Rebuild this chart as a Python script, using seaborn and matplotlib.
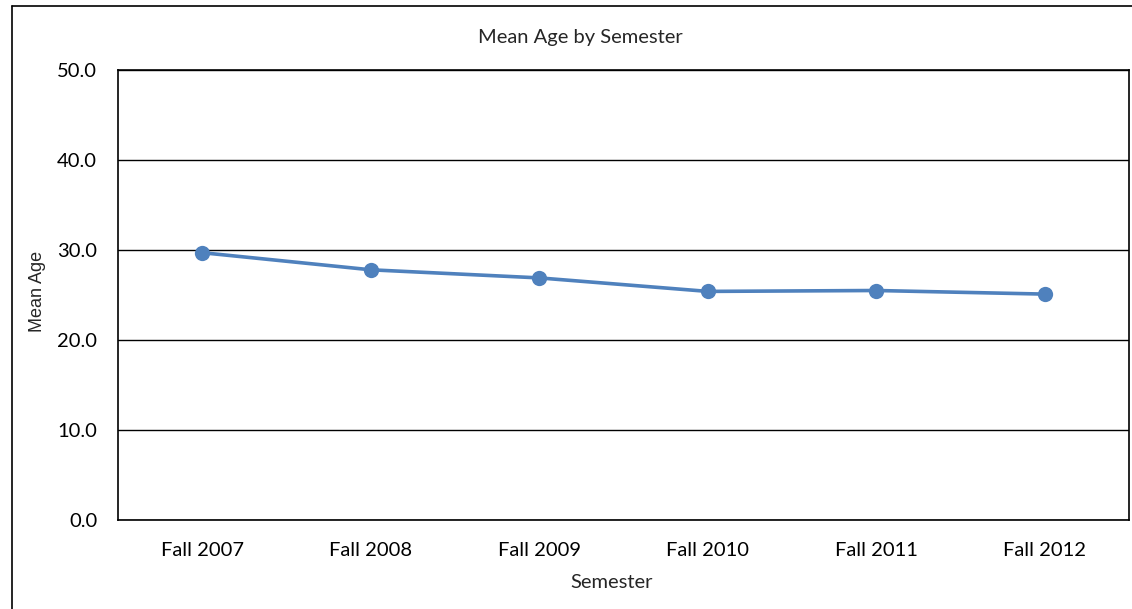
import matplotlib
matplotlib.use("Agg")
import matplotlib.pyplot as plt
import seaborn as sns
import pandas as pd
from matplotlib.lines import Line2D

# =========================
# DATA
# =========================
semesters = ["Fall 2007", "Fall 2008", "Fall 2009", "Fall 2010", "Fall 2011", "Fall 2012"]
mean_age = [29.7, 27.8, 26.9, 25.4, 25.5, 25.1]
y_ticks = [0, 10, 20, 30, 40, 50]

df = pd.DataFrame({"Semester": semesters, "Mean Age": mean_age})

sns.set_style("white")
plt.rcParams["font.family"] = ["Lato", "DejaVu Sans"]

fig = plt.figure(figsize=(11.32, 6.09), dpi=100)
ax = fig.add_axes([118 / 1132, 89 / 609, 1011 / 1132, 450 / 609])

sns.lineplot(data=df, x="Semester", y="Mean Age", ax=ax, sort=False,
             color="#4F81BD", linewidth=2.6, marker="o", markersize=11,
             markeredgewidth=0)

ax.set_xlim(-0.5, len(semesters) - 0.5)
ax.set_ylim(0, 50)
ax.set_yticks(y_ticks)
ax.set_yticklabels([f"{v:.1f}" for v in y_ticks])
ax.yaxis.grid(True, color="black", linewidth=1)
ax.set_axisbelow(True)
ax.tick_params(axis="both", length=0, labelsize=14.5, colors="black")
ax.tick_params(axis="y", pad=15)
ax.tick_params(axis="x", pad=16)
for s in ax.spines.values():
    s.set_color("black")
    s.set_linewidth(1.2)

ax.set_xlabel("")
ax.set_ylabel("")

fig.text(580 / 1132, 1 - 38 / 609, "Mean Age by Semester", ha="center", va="center", fontsize=14.5)
fig.text(612 / 1132, 1 - 583 / 609, "Semester", ha="center", va="center", fontsize=14.5)
fig.text(37 / 1132, 1 - 291 / 609, "Mean Age", ha="center", va="center", rotation=90,
         fontsize=13, family=["Liberation Sans", "DejaVu Sans"])

# outer chart frame
fig.add_artist(Line2D([12 / 1132, 12 / 1132], [0, 1 - 6 / 609], color="black", linewidth=1.2))
fig.add_artist(Line2D([12 / 1132, 1], [1 - 6 / 609, 1 - 6 / 609], color="black", linewidth=1.2))

fig.savefig("out.png", dpi=100)
